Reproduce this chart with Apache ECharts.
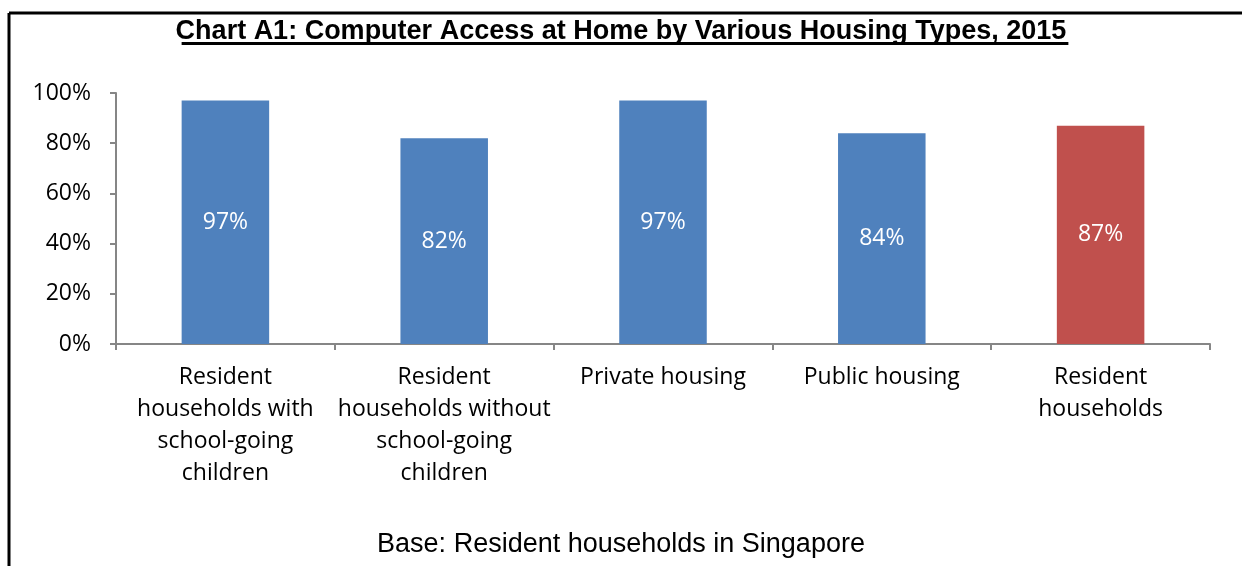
<!DOCTYPE html>
<html>
<head>
<meta charset="utf-8">
<script src="https://cdn.jsdelivr.net/npm/echarts@6/dist/echarts.min.js"></script>
<style>
html, body { margin: 0; padding: 0; background: #fff; }
#chart { width: 1242px; height: 566px; }
</style>
</head>
<body>
<div id="chart"></div>
<script>
var categories = [
  "Resident\nhouseholds with\nschool-going\nchildren",
  "Resident\nhouseholds without\nschool-going\nchildren",
  "Private housing",
  "Public housing",
  "Resident\nhouseholds"
];
var values = [97, 82, 97, 84, 87];
var barColors = ["#4F81BD", "#4F81BD", "#4F81BD", "#4F81BD", "#C0504D"];
var yTicks = [0, 20, 40, 60, 80, 100];

var titleText = "Chart A1: Computer Access at Home by Various Housing Types, 2015";
var footText = "Base: Resident households in Singapore";
var titleFont = 'bold 27px "Liberation Sans", Arial, sans-serif';
var labelFont = "'Open Sans', sans-serif";

// measure the title so the underline fits it
var ctx = document.createElement("canvas").getContext("2d");
ctx.font = titleFont;
var titleW = ctx.measureText(titleText).width;

var myChart = echarts.init(document.getElementById("chart"));
myChart.setOption({
  animation: false,
  grid: { left: 116, right: 32, top: 93, bottom: 222 },
  xAxis: {
    type: "category",
    data: categories,
    axisLine: { lineStyle: { color: "#868686", width: 2 } },
    axisTick: { show: true, length: 6, lineStyle: { color: "#868686", width: 2 } },
    axisLabel: {
      interval: 0,
      margin: 17,
      color: "#000",
      fontFamily: labelFont,
      fontSize: 23,
      lineHeight: 32
    }
  },
  yAxis: {
    type: "value",
    min: 0,
    max: 100,
    interval: 20,
    axisLine: { show: true, lineStyle: { color: "#868686", width: 2 } },
    axisTick: { show: true, length: 6, lineStyle: { color: "#868686", width: 2 } },
    splitLine: { show: false },
    axisLabel: {
      margin: 25,
      color: "#000",
      fontFamily: labelFont,
      fontSize: 23,
      formatter: function (v) { return yTicks.indexOf(v) >= 0 ? v + "%" : ""; }
    }
  },
  series: [{
    type: "bar",
    barWidth: "40%",
    data: values.map(function (v, i) {
      return { value: v, itemStyle: { color: barColors[i] } };
    }),
    label: {
      show: true,
      position: "inside",
      color: "#fff",
      fontFamily: labelFont,
      fontSize: 23,
      formatter: "{c}%"
    }
  }],
  graphic: [
    // frame (top and left edges)
    { type: "line", shape: { x1: 9, y1: 13, x2: 1242, y2: 13 }, style: { stroke: "#000", lineWidth: 3 } },
    { type: "line", shape: { x1: 9, y1: 13, x2: 9, y2: 566 }, style: { stroke: "#000", lineWidth: 3 } },
    {
      type: "text", left: "center", top: 18,
      style: { text: titleText, font: titleFont, fill: "#000" }
    },
    {
      type: "rect",
      shape: { x: 627 - titleW / 2, y: 42, width: titleW - 4, height: 3 },
      style: { fill: "#000" }
    },
    {
      type: "text", left: "center", top: 531,
      style: { text: footText, font: '27px "Liberation Sans", Arial, sans-serif', fill: "#000" }
    }
  ]
});
</script>
</body>
</html>
